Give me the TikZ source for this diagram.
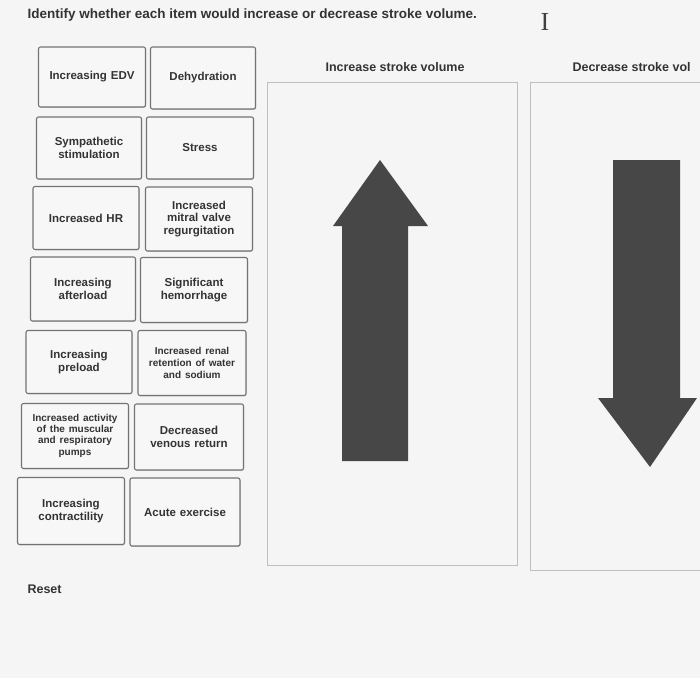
\documentclass[tikz,border=0pt]{standalone}
\usepackage{fontspec}
\setmainfont{Liberation Sans}
\newfontfamily\beamfont{Liberation Serif}
\usetikzlibrary{shadows}
\tikzset{
  card/.style={draw=black!55,line width=1.1pt,rounded corners=2pt,fill=white!97!black,
    align=center,font=\fontsize{11.5}{12.5}\selectfont\bfseries,text=black!80,
    inner sep=1pt,drop shadow={shadow xshift=0.6pt,shadow yshift=-0.8pt,opacity=0.35}},
  panel/.style={draw=black!25,line width=0.6pt},
  head/.style={font=\fontsize{12.5}{14}\selectfont\bfseries,text=black!80},
  bigarrow/.style={fill=black!72,draw=none}
}
\begin{document}
\begin{tikzpicture}[x=1pt,y=-1pt]
\useasboundingbox[fill=black!4] (0,0) rectangle (700,678);

% title
\node[head,font=\fontsize{13.5}{15}\selectfont\bfseries,anchor=west] (title) at (24,15) {Identify whether each item would increase or decrease stroke volume.};
\node[font=\beamfont\fontsize{26}{26}\selectfont,text=black!75] (cursor) at (545,22) {I};

% cards
\newcommand\card[5]{\node[card,minimum width=#3 pt,minimum height=#4 pt,text width=#3 pt-2pt] (#1) at (#2) {#5};}
\card{edv}{92,77}{107}{60}{Increasing EDV}
\card{dehyd}{203,78}{105}{62}{Dehydration}
\card{symp}{89,148}{105}{62}{Sympathetic\\stimulation}
\card{stress}{200,148}{107}{62}{Stress}
\card{hr}{86,218}{106}{63}{Increased HR}
\card{mitral}{199,219}{107}{64}{Increased\\mitral valve\\regurgitation}
\card{after}{83,289}{105}{64}{Increasing\\afterload}
\card{hemo}{194,290}{107}{65}{Significant\\hemorrhage}
\card{pre}{79,362}{106}{63}{Increasing\\preload}
\card{renal}{192,363}{108}{65}{\fontsize{10}{11.5}\selectfont Increased renal\\retention of water\\and sodium}
\card{pumps}{75,436}{107}{65}{\fontsize{10}{11}\selectfont Increased activity\\of the muscular\\and respiratory\\pumps}
\card{venous}{189,437}{109}{66}{Decreased\\venous return}
\card{contr}{71,511}{107}{67}{Increasing\\contractility}
\card{acute}{185,512}{110}{68}{Acute exercise}

% panels
\node[head] (inclabel) at (395,67) {Increase stroke volume};
\node[head,anchor=west] (declabel) at (569,67) {Decrease stroke vol};
\draw[panel] (267,82) rectangle (517,565);
\draw[panel] (530,82) -- (700,82) (530,82) -- (530,570) -- (700,570);

% arrows
\fill[bigarrow] (342,461) -- (342,226) -- (333,226) -- (380,160) -- (428,226) -- (408,226) -- (408,461) -- cycle;
\fill[bigarrow] (613,160) -- (680,160) -- (680,398) -- (697,398) -- (650,467) -- (598,398) -- (613,398) -- cycle;

\node[head,anchor=west] (reset) at (24,589) {Reset};
\end{tikzpicture}
\end{document}
